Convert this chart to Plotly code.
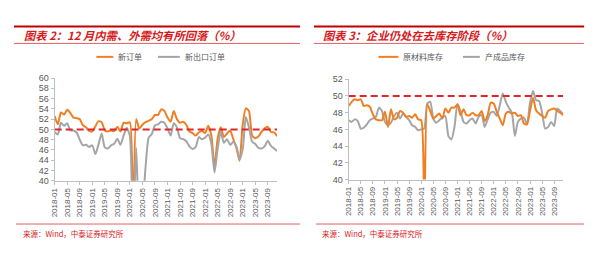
import plotly.graph_objects as go

# ---------------- data ----------------
months = [f"{y}-{m:02d}" for y in range(2018, 2024) for m in range(1, 13)]

new_orders = [
    52.6, 51.0, 53.3, 52.9, 53.8, 53.2, 52.3, 52.2, 52.0, 50.8, 50.4, 49.7,
    49.6, 50.6, 51.6, 51.4, 49.8, 49.6, 49.8, 49.7, 50.5, 49.6, 51.3, 51.2,
    51.4, 29.3, 52.0, 50.2, 50.9, 51.4, 51.7, 52.0, 52.8, 52.8, 53.9, 53.6,
    52.3, 51.5, 53.6, 52.0, 51.3, 51.5, 50.9, 49.6, 49.3, 48.8, 49.4, 49.7,
    49.3, 50.7, 48.8, 42.6, 48.2, 50.4, 48.5, 49.2, 49.8, 48.1, 46.4, 43.9,
    50.9, 54.1, 53.6, 48.8, 48.3, 48.6, 49.5, 50.2, 50.5, 49.5, 49.4, 48.7,
]
new_export_orders = [
    49.5, 49.0, 51.3, 50.7, 51.2, 49.8, 49.8, 49.4, 48.0, 46.9, 47.0, 46.6,
    46.9, 45.2, 47.1, 49.2, 46.5, 46.3, 46.9, 47.2, 48.2, 47.0, 48.8, 50.3,
    48.7, 28.7, 46.4, 33.5, 35.3, 42.6, 48.4, 49.1, 50.8, 51.0, 51.5, 51.3,
    50.2, 48.8, 51.2, 50.4, 48.3, 48.1, 47.7, 46.7, 46.2, 46.6, 48.5, 48.1,
    48.4, 49.0, 47.2, 41.6, 46.2, 49.5, 47.4, 48.1, 47.0, 47.6, 46.7, 44.2,
    46.1, 52.4, 50.4, 47.6, 47.2, 46.4, 46.3, 46.7, 47.8, 46.8, 46.3, 45.8,
]
raw_material_inv = [
    48.8, 49.3, 49.6, 49.5, 49.6, 48.8, 48.9, 48.7, 47.8, 47.2, 47.1, 47.1,
    48.1, 46.3, 48.4, 47.2, 47.4, 48.2, 48.0, 47.5, 47.6, 47.4, 47.8, 47.2,
    47.1, 33.9, 49.0, 48.2, 47.3, 47.6, 47.9, 47.3, 48.5, 48.0, 48.6, 48.6,
    49.0, 47.7, 48.4, 47.7, 47.7, 48.0, 47.7, 47.7, 48.2, 47.0, 47.7, 49.2,
    49.1, 48.1, 47.3, 46.5, 47.9, 48.1, 47.9, 48.0, 47.6, 47.7, 46.7, 46.6,
    48.2, 49.8, 48.3, 47.9, 47.6, 47.4, 48.2, 48.4, 48.5, 48.2, 48.0, 47.7,
]
finished_goods_inv = [
    47.1, 46.9, 47.2, 47.0, 46.1, 46.2, 46.6, 47.1, 47.3, 47.5, 48.6, 48.2,
    46.9, 46.5, 46.8, 47.6, 48.0, 47.3, 47.9, 47.5, 47.1, 46.5, 46.3, 45.9,
    46.0, 46.1, 49.1, 49.3, 47.3, 46.8, 47.1, 47.4, 47.6, 45.2, 44.8, 46.3,
    49.0, 48.2, 46.9, 46.7, 47.1, 47.3, 46.7, 47.5, 47.7, 46.3, 47.2, 48.0,
    48.1, 47.6, 48.9, 50.3, 49.3, 48.6, 48.0, 45.2, 46.9, 47.3, 47.4, 46.6,
    49.2, 50.6, 49.5, 49.4, 48.0, 46.1, 46.3, 46.9, 46.4, 48.5, 48.2, 47.8,
]
threshold = 50

left_title = "图表 2：12 月内需、外需均有所回落（%）"
right_title = "图表 3：企业仍处在去库存阶段（%）"
source_text = "来源：Wind，中泰证券研究所"
left_names = ["新订单", "新出口订单"]
right_names = ["原材料库存", "产成品库存"]

# ---------------- style ----------------
W, H = 600, 254
ORANGE = "#F07F22"
GRAY = "#A5A5A5"
RED = "#D7191C"
DASH_RED = "#E0262B"
AXIS = "#BFBFBF"
TXT = "#595959"
CJK = "Noto Sans CJK SC"

xi = list(range(len(months)))
tickvals = xi[::4]
ticktext = months[::4]


def px_x(p):
    return p / W


def px_y(p):
    return 1 - p / H


fig = go.Figure()

line_kw = dict(mode="lines", line_shape="spline", hoverinfo="skip", showlegend=False)

fig.add_trace(go.Scatter(x=xi, y=new_orders, xaxis="x", yaxis="y",
                         line=dict(color=ORANGE, width=2, smoothing=0.6), **line_kw))
fig.add_trace(go.Scatter(x=xi, y=new_export_orders, xaxis="x", yaxis="y",
                         line=dict(color=GRAY, width=2, smoothing=0.6), **line_kw))
fig.add_trace(go.Scatter(x=[xi[0], xi[-1]], y=[threshold, threshold], xaxis="x", yaxis="y",
                         mode="lines", line=dict(color=DASH_RED, width=2, dash="7px,4px"),
                         hoverinfo="skip", showlegend=False))

fig.add_trace(go.Scatter(x=xi, y=finished_goods_inv, xaxis="x2", yaxis="y2",
                         line=dict(color=GRAY, width=2, smoothing=0.6), **line_kw))
fig.add_trace(go.Scatter(x=xi, y=raw_material_inv, xaxis="x2", yaxis="y2",
                         line=dict(color=ORANGE, width=2, smoothing=0.6), **line_kw))
fig.add_trace(go.Scatter(x=[xi[0], xi[-1]], y=[threshold, threshold], xaxis="x2", yaxis="y2",
                         mode="lines", line=dict(color=DASH_RED, width=2, dash="7px,4px"),
                         hoverinfo="skip", showlegend=False))

xaxis_common = dict(
    range=[xi[0], xi[-1]], tickmode="array", tickvals=tickvals, ticktext=ticktext,
    tickangle=-90, tickfont=dict(family="Liberation Sans, Arial", size=8, color=TXT),
    showgrid=False, zeroline=False, showline=True, linecolor=AXIS, linewidth=1,
    ticks="outside", ticklen=3, tickcolor=AXIS, fixedrange=True,
)
yaxis_common = dict(
    tickfont=dict(family="Liberation Sans, Arial", size=9, color=TXT),
    showgrid=False, zeroline=False, showline=True, linecolor=AXIS, linewidth=1,
    ticks="outside", ticklen=3, tickcolor=AXIS, dtick=2, fixedrange=True,
)

fig.update_layout(
    width=W, height=H,
    margin=dict(l=0, r=0, t=0, b=0),
    paper_bgcolor="white", plot_bgcolor="white",
    xaxis=dict(domain=[px_x(51), px_x(275)], anchor="y", **xaxis_common),
    yaxis=dict(domain=[px_y(183), px_y(76)], anchor="x", range=[40, 60], **yaxis_common),
    xaxis2=dict(domain=[px_x(347), px_x(563)], anchor="y2", **xaxis_common),
    yaxis2=dict(domain=[px_y(181.7), px_y(77.3)], anchor="x2", range=[40, 52], **yaxis_common),
)

shapes = []
annotations = []


def hline(x0, x1, y, color, width):
    shapes.append(dict(type="line", xref="paper", yref="paper",
                       x0=px_x(x0), x1=px_x(x1), y0=px_y(y), y1=px_y(y),
                       line=dict(color=color, width=width)))


def text(x, y, s, size, color, bold=False, italic=False, anchor="left"):
    annotations.append(dict(xref="paper", yref="paper", x=px_x(x), y=px_y(y), text=s,
                            showarrow=False, xanchor=anchor, yanchor="middle",
                            font=dict(family=CJK, size=size, color=color,
                                      weight="bold" if bold else "normal",
                                      style="italic" if italic else "normal")))


# panel frames
for (xa, xb) in [(10, 298), (312, 584)]:
    hline(xa, xb, 22.5, "#C00000", 2)
    hline(xa, xb, 40, "#E06060", 1)
    hline(xa + 2, xb, 228, "#E06060", 1)

text(18, 31.5, left_title, 11.3, RED, bold=True, italic=True)
text(319, 31.5, right_title, 11.3, RED, bold=True, italic=True)
text(17, 237.5, source_text, 7.5, RED)
text(318, 237.5, source_text, 7.5, RED)

# legends
hline(93, 110, 54, ORANGE, 2)
text(113, 54, left_names[0], 8, TXT)
hline(155, 177, 54, GRAY, 2)
text(180, 54, left_names[1], 8, TXT)

hline(377, 397, 54, ORANGE, 2)
text(400, 54, right_names[0], 8, TXT)
hline(462, 479, 54, GRAY, 2)
text(482, 54, right_names[1], 8, TXT)

fig.update_layout(shapes=shapes, annotations=annotations)

fig.write_html("out.html")
